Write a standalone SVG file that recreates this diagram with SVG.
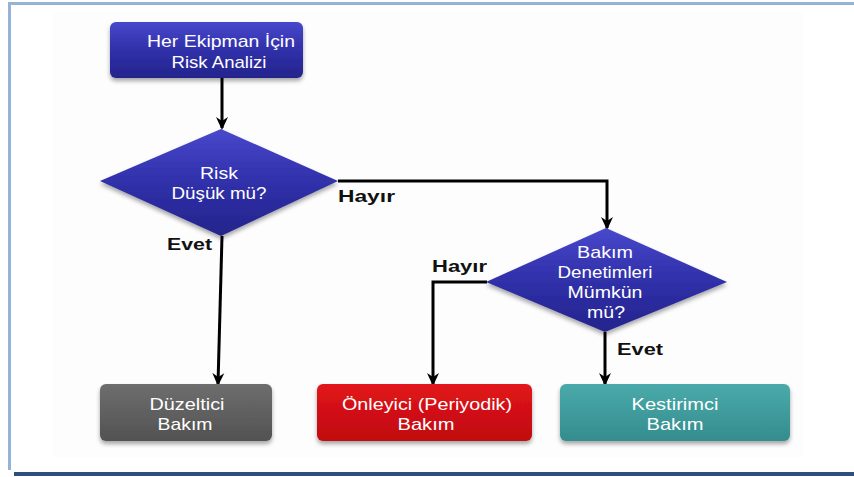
<svg xmlns="http://www.w3.org/2000/svg" width="854" height="477" viewBox="0 0 854 477">
<style>
.wt{font-family:"Liberation Sans",Arial,sans-serif;font-size:17px;fill:#ffffff;text-anchor:middle}
.lb{font-family:"Liberation Sans",Arial,sans-serif;font-size:17px;font-weight:bold;fill:#111111}
.conn{fill:none;stroke:#000000;stroke-width:3;marker-end:url(#arr)}
</style>
<defs>
<marker id="arr" markerUnits="userSpaceOnUse" markerWidth="14" markerHeight="14" refX="11" refY="7" orient="auto" viewBox="0 0 14 14">
<path d="M0,1 L13,7 L0,13 L4,7 z" fill="#000000"/>
</marker>
<linearGradient id="gBlue" x1="0" y1="0" x2="0" y2="1">
<stop offset="0" stop-color="#4848cc"/>
<stop offset="0.5" stop-color="#3030aa"/>
<stop offset="1" stop-color="#24248c"/>
</linearGradient>
<linearGradient id="gGray" x1="0" y1="0" x2="0" y2="1">
<stop offset="0" stop-color="#6e6e6e"/>
<stop offset="1" stop-color="#525252"/>
</linearGradient>
<linearGradient id="gRed" x1="0" y1="0" x2="0" y2="1">
<stop offset="0" stop-color="#e2151b"/>
<stop offset="1" stop-color="#c00a0f"/>
</linearGradient>
<linearGradient id="gTeal" x1="0" y1="0" x2="0" y2="1">
<stop offset="0" stop-color="#4aaaab"/>
<stop offset="1" stop-color="#348c8e"/>
</linearGradient>
<filter id="sh" x="-10%" y="-10%" width="120%" height="130%">
<feDropShadow dx="0" dy="3" stdDeviation="2" flood-color="#000000" flood-opacity="0.35"/>
</filter>
</defs>

<rect x="0" y="0" width="854" height="477" fill="#ffffff"/>
<rect x="53" y="12" width="750" height="445" fill="#fdfdfd"/>
<g id="frame">
<rect x="8" y="2" width="846" height="3" fill="#95b3d7"/>
<rect x="8" y="2" width="3" height="468" fill="#95b3d7"/>
<rect x="14" y="472" width="840" height="4" fill="#2d4f7c"/>
</g>

<g id="connectors">
<path class="conn" d="M222,78 V128"/>
<path class="conn" d="M338,181 H607 V228"/>
<path class="conn" d="M222,236 L218,384"/>
<path class="conn" d="M487,282 H433 V384"/>
<path class="conn" d="M605,332 V384"/>
</g>

<g id="n-start">
<rect x="110" y="22" width="193" height="56" rx="6" fill="url(#gBlue)" filter="url(#sh)"/>
<text class="wt" x="221" y="47" textLength="148" lengthAdjust="spacingAndGlyphs">Her Ekipman İçin</text>
<text class="wt" x="219" y="68" textLength="95" lengthAdjust="spacingAndGlyphs">Risk Analizi</text>
</g>

<g id="n-risk">
<polygon points="100,181 221,129 338,181 221,236" fill="url(#gBlue)" filter="url(#sh)"/>
<text class="wt" x="219" y="179" textLength="38" lengthAdjust="spacingAndGlyphs">Risk</text>
<text class="wt" x="219" y="199" textLength="95" lengthAdjust="spacingAndGlyphs">Düşük mü?</text>
</g>

<g id="n-bakim">
<polygon points="486,282 606,228 727,282 605,332" fill="url(#gBlue)" filter="url(#sh)"/>
<text class="wt" x="605" y="258" textLength="56" lengthAdjust="spacingAndGlyphs">Bakım</text>
<text class="wt" x="605" y="278" textLength="95" lengthAdjust="spacingAndGlyphs">Denetimleri</text>
<text class="wt" x="605" y="298" textLength="75" lengthAdjust="spacingAndGlyphs">Mümkün</text>
<text class="wt" x="606" y="318" textLength="38" lengthAdjust="spacingAndGlyphs">mü?</text>
</g>

<g id="n-duzeltici">
<rect x="100" y="384" width="172" height="57" rx="6" fill="url(#gGray)" filter="url(#sh)"/>
<text class="wt" x="187" y="410" textLength="75" lengthAdjust="spacingAndGlyphs">Düzeltici</text>
<text class="wt" x="185" y="430" textLength="55" lengthAdjust="spacingAndGlyphs">Bakım</text>
</g>

<g id="n-onleyici">
<rect x="317" y="384" width="215" height="57" rx="6" fill="url(#gRed)" filter="url(#sh)"/>
<text class="wt" x="427" y="410" textLength="170" lengthAdjust="spacingAndGlyphs">Önleyici (Periyodik)</text>
<text class="wt" x="426" y="430" textLength="57" lengthAdjust="spacingAndGlyphs">Bakım</text>
</g>

<g id="n-kestirimci">
<rect x="560" y="384" width="230" height="57" rx="6" fill="url(#gTeal)" filter="url(#sh)"/>
<text class="wt" x="675" y="410" textLength="87" lengthAdjust="spacingAndGlyphs">Kestirimci</text>
<text class="wt" x="675" y="430" textLength="57" lengthAdjust="spacingAndGlyphs">Bakım</text>
</g>

<g id="labels">
<text class="lb" x="338" y="202" textLength="57" lengthAdjust="spacingAndGlyphs">Hayır</text>
<text class="lb" x="167" y="250" textLength="45" lengthAdjust="spacingAndGlyphs">Evet</text>
<text class="lb" x="432" y="272" textLength="55" lengthAdjust="spacingAndGlyphs">Hayır</text>
<text class="lb" x="617" y="355" textLength="46" lengthAdjust="spacingAndGlyphs">Evet</text>
</g>
</svg>
